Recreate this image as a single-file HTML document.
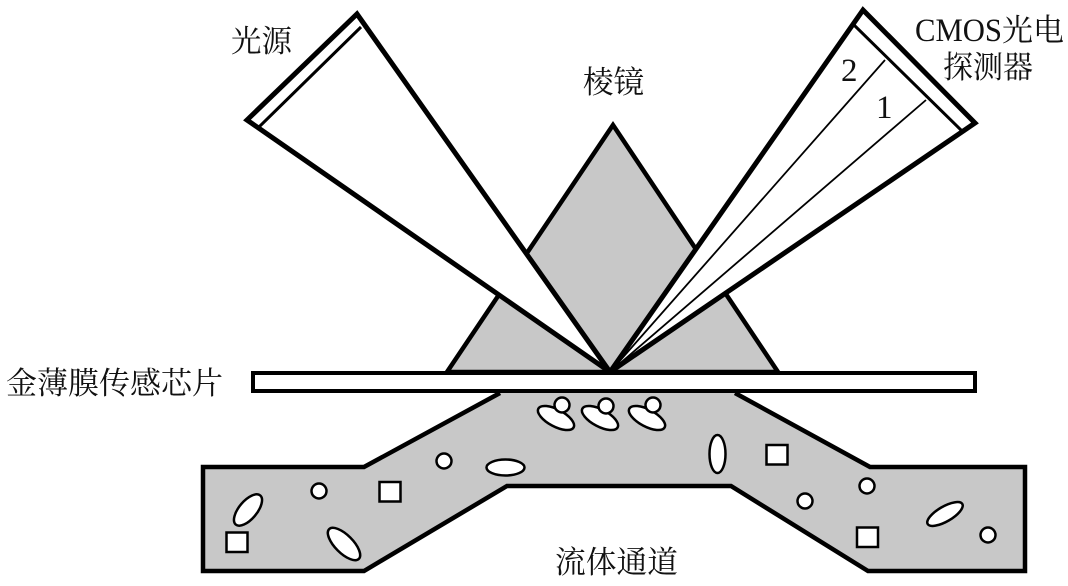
<!DOCTYPE html>
<html>
<head>
<meta charset="utf-8">
<style>
html,body{margin:0;padding:0;background:#fff;width:1068px;height:586px;overflow:hidden}
svg{display:block}
text{font-family:"Liberation Serif","Noto Serif CJK SC",serif;fill:#111;font-size:31px;font-weight:400}
</style>
</head>
<body>
<svg width="1068" height="586" viewBox="0 0 1068 586" xmlns="http://www.w3.org/2000/svg">
  <!-- Prism -->
  <polygon points="613,125 447,372 778,372" fill="#c8c8c8" stroke="#000" stroke-width="4.5" stroke-linejoin="miter"/>

  <!-- Left fan (light source) -->
  <polygon points="610,372 357,14 247,120" fill="#fff" stroke="#000" stroke-width="5" stroke-linejoin="miter"/>
  <line x1="361" y1="27" x2="259" y2="127" stroke="#000" stroke-width="3"/>

  <!-- Right fan (detector) -->
  <polygon points="610,372 863,10 975,123" fill="#fff" stroke="#000" stroke-width="5" stroke-linejoin="miter"/>
  <line x1="854" y1="25" x2="962" y2="131" stroke="#000" stroke-width="3"/>
  <line x1="610" y1="372" x2="885" y2="60" stroke="#000" stroke-width="1.8"/>
  <line x1="610" y1="372" x2="926" y2="100" stroke="#000" stroke-width="1.8"/>

  <!-- Gold film chip -->
  <rect x="253" y="373" width="722" height="18" fill="#fff" stroke="#000" stroke-width="4"/>

  <!-- Fluid channel -->
  <path d="M500,393 L364,467 L203,467 L203,571 L364,571 L507,486 L731,486 L868,571 L1025,571 L1025,467 L870,467 L735,393" fill="#c8c8c8" stroke="#000" stroke-width="4.5" stroke-linejoin="miter"/>

  <!-- Particles -->
  <g fill="#fff" stroke="#000" stroke-width="2.5">
    <circle cx="319" cy="491" r="7.5"/>
    <circle cx="444" cy="461" r="7.5"/>
    <circle cx="805" cy="501" r="7.5"/>
    <circle cx="867" cy="486" r="7.5"/>
    <circle cx="988" cy="535" r="7.5"/>
    <rect x="379.500" y="482" width="21" height="19.500"/>
    <rect x="226.500" y="532.500" width="21" height="19.500"/>
    <rect x="766.500" y="445" width="21" height="19.500"/>
    <rect x="857" y="527.500" width="21" height="19.500"/>
    <ellipse cx="505.500" cy="467.500" rx="19" ry="8"/>
    <ellipse cx="717.500" cy="454" rx="8" ry="19"/>
    <ellipse cx="945" cy="514" rx="20" ry="7.500" transform="rotate(-30 945 514)"/>
    <ellipse cx="248" cy="510" rx="19" ry="9" transform="rotate(-50 248 510)"/>
    <ellipse cx="344" cy="544" rx="21" ry="9" transform="rotate(45 344 544)"/>
    <ellipse cx="556" cy="418" rx="20" ry="8.500" transform="rotate(28 556 418)"/>
    <ellipse cx="600" cy="418" rx="20" ry="8.500" transform="rotate(28 600 418)"/>
    <ellipse cx="647" cy="418" rx="20" ry="8.500" transform="rotate(28 647 418)"/>
    <circle cx="562" cy="405" r="7.500"/>
    <circle cx="606" cy="406" r="7.500"/>
    <circle cx="653" cy="405" r="7.500"/>
  </g>

  <!-- Labels -->
  <text x="231" y="52" textLength="61" lengthAdjust="spacingAndGlyphs">光源</text>
  <text x="583" y="93" textLength="61" lengthAdjust="spacingAndGlyphs">棱镜</text>
  <text x="915" y="41" textLength="87" lengthAdjust="spacingAndGlyphs" style="font-size:33px;font-weight:400">CMOS</text>
  <text x="1002" y="41" textLength="62" lengthAdjust="spacingAndGlyphs">光电</text>
  <text x="943" y="78" textLength="90" lengthAdjust="spacingAndGlyphs">探测器</text>
  <text x="6" y="394" textLength="217" lengthAdjust="spacingAndGlyphs">金薄膜传感芯片</text>
  <text x="555" y="573" textLength="123" lengthAdjust="spacingAndGlyphs">流体通道</text>
  <text x="841" y="81" style="font-size:33px">2</text>
  <text x="876" y="118" style="font-size:33px">1</text>
</svg>
</body>
</html>
